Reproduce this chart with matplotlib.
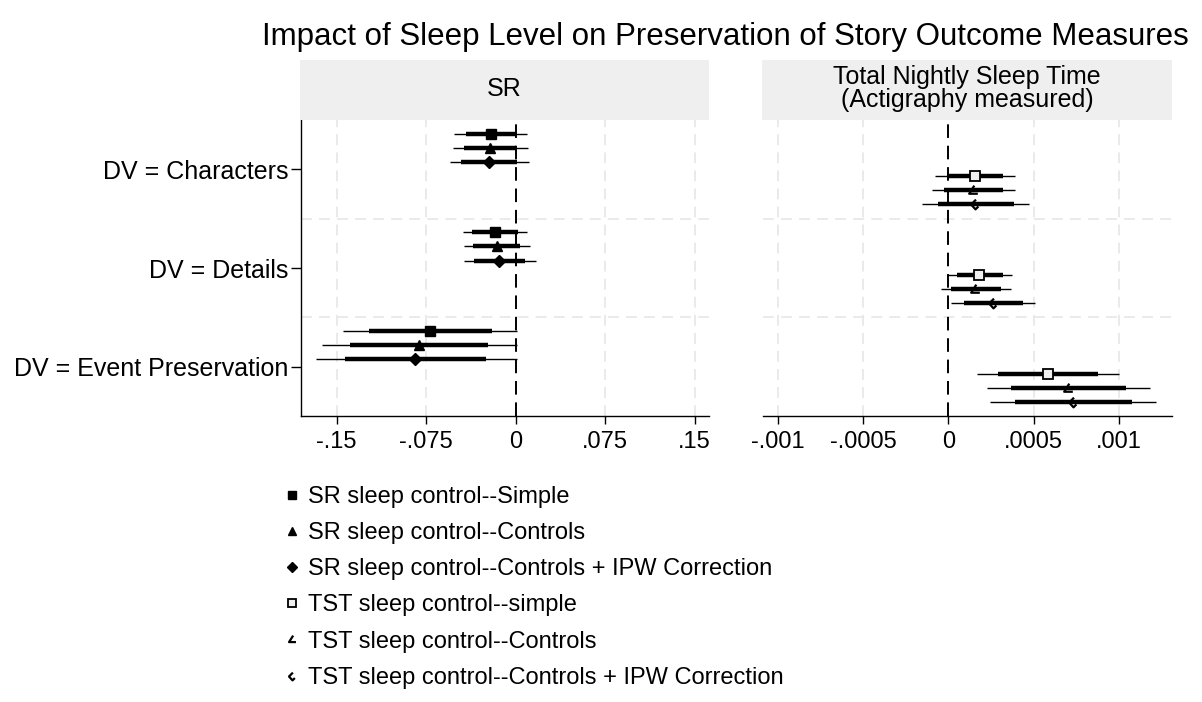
import matplotlib
matplotlib.use("Agg")
import matplotlib.pyplot as plt
from matplotlib.path import Path
from matplotlib.patches import Rectangle
from matplotlib.lines import Line2D
import numpy as np

plt.rcParams['font.family'] = ['Liberation Sans', 'DejaVu Sans']

# ---------------- data ----------------
categories = ["DV = Characters", "DV = Details", "DV = Event Preservation"]
panel_titles = ["SR", "Total Nightly Sleep Time\n(Actigraphy measured)"]
legend_labels = ["SR sleep control--Simple", "SR sleep control--Controls",
                 "SR sleep control--Controls + IPW Correction",
                 "TST sleep control--simple", "TST sleep control--Controls",
                 "TST sleep control--Controls + IPW Correction"]

# SR panel
sr_simple_coef = [-0.0209, -0.0173, -0.0718]
sr_simple_lo95 = [-0.0515, -0.0444, -0.1445]
sr_simple_hi95 = [0.0092, 0.0095, 0.0008]
sr_simple_lo90 = [-0.0419, -0.0364, -0.1229]
sr_simple_hi90 = [0.0001, 0.0018, -0.0201]

sr_controls_coef = [-0.0215, -0.0159, -0.0813]
sr_controls_lo95 = [-0.0525, -0.0436, -0.1623]
sr_controls_hi95 = [0.0100, 0.0120, 0.0008]
sr_controls_lo90 = [-0.0433, -0.0358, -0.1386]
sr_controls_hi90 = [0.0003, 0.0040, -0.0232]

sr_ipw_coef = [-0.0224, -0.0137, -0.0841]
sr_ipw_lo95 = [-0.0553, -0.0436, -0.1676]
sr_ipw_hi95 = [0.0111, 0.0170, 0.0008]
sr_ipw_lo90 = [-0.0456, -0.0347, -0.1430]
sr_ipw_hi90 = [0.0008, 0.0078, -0.0246]

# TST panel
tst_simple_coef = [0.000157, 0.000182, 0.000582]
tst_simple_lo95 = [-0.000078, -0.000010, 0.000170]
tst_simple_hi95 = [0.000391, 0.000373, 0.000999]
tst_simple_lo90 = [-0.000008, 0.000049, 0.000293]
tst_simple_hi90 = [0.000322, 0.000319, 0.000879]

tst_controls_coef = [0.000143, 0.000157, 0.000700]
tst_controls_lo95 = [-0.000094, -0.000041, 0.000225]
tst_controls_hi95 = [0.000393, 0.000366, 0.001180]
tst_controls_lo90 = [-0.000025, 0.000018, 0.000368]
tst_controls_hi90 = [0.000319, 0.000307, 0.001040]

tst_ipw_coef = [0.000158, 0.000264, 0.000729]
tst_ipw_lo95 = [-0.000156, 0.000018, 0.000244]
tst_ipw_hi95 = [0.000475, 0.000510, 0.001220]
tst_ipw_lo90 = [-0.000062, 0.000092, 0.000391]
tst_ipw_hi90 = [0.000385, 0.000436, 0.001075]

sr_ticks = [-0.15, -0.075, 0, 0.075, 0.15]
sr_ticklabels = ["-.15", "-.075", "0", ".075", ".15"]
tst_ticks = [-0.001, -0.0005, 0, 0.0005, 0.001]
tst_ticklabels = ["-.001", "-.0005", "0", ".0005", ".001"]

# ---------------- markers ----------------
M, L = Path.MOVETO, Path.LINETO
tri_open = Path([(0.15, 0.9), (-0.8, -0.6), (0.8, -0.6)], [M, L, L])
dia_open = Path([(0.1, 1.0), (-0.9, 0.0), (0.0, -1.0), (0.6, -0.4)], [M, L, L, L])

sr_series = [
    (sr_simple_coef, sr_simple_lo95, sr_simple_hi95, sr_simple_lo90, sr_simple_hi90,
     dict(marker='s', ms=7, mfc='black', mec='black'), -0.36),
    (sr_controls_coef, sr_controls_lo95, sr_controls_hi95, sr_controls_lo90, sr_controls_hi90,
     dict(marker='^', ms=7.5, mfc='black', mec='black'), -0.22),
    (sr_ipw_coef, sr_ipw_lo95, sr_ipw_hi95, sr_ipw_lo90, sr_ipw_hi90,
     dict(marker='D', ms=6.5, mfc='black', mec='black'), -0.075),
]
tst_series = [
    (tst_simple_coef, tst_simple_lo95, tst_simple_hi95, tst_simple_lo90, tst_simple_hi90,
     dict(marker='s', ms=6.5, mfc='#f0f0f0', mec='black', mew=1.3), 0.07),
    (tst_controls_coef, tst_controls_lo95, tst_controls_hi95, tst_controls_lo90, tst_controls_hi90,
     dict(marker=tri_open, ms=7, mfc='none', mec='black', mew=1.6), 0.213),
    (tst_ipw_coef, tst_ipw_lo95, tst_ipw_hi95, tst_ipw_lo90, tst_ipw_hi90,
     dict(marker=dia_open, ms=7, mfc='none', mec='black', mew=1.6), 0.356),
]

W, H = 1202, 702
fig = plt.figure(figsize=(W / 100, H / 100), dpi=100)

def fx(px):
    return px / W

def fy(py):
    return 1 - py / H

ax1 = fig.add_axes([fx(301), fy(416), fx(709) - fx(301), fy(120) - fy(416)])
ax2 = fig.add_axes([fx(763), fy(416), fx(1172) - fx(763), fy(120) - fy(416)])

ypos = np.arange(1, len(categories) + 1)
grid_c = '#e8e8e8'

def draw_panel(ax, series, ticks, ticklabels, xlim):
    ax.set_xlim(*xlim)
    ax.set_ylim(3.5, 0.5)
    for t in ticks:
        if t != 0:
            ax.axvline(t, color=grid_c, lw=1.3, ls=(0, (6, 4)), zorder=0)
    for yg in [1.5, 2.5]:
        ax.axhline(yg, color=grid_c, lw=1.3, ls=(0, (6, 4)), zorder=0)
    ax.axvline(0, color='black', lw=1.4, ls=(0, (7, 4)), zorder=1)
    handles = []
    for coef, lo95, hi95, lo90, hi90, mk, off in series:
        y = ypos + off
        ax.hlines(y, lo95, hi95, color='black', lw=1.0, zorder=2)
        ax.hlines(y, lo90, hi90, color='black', lw=3.2, zorder=3)
        h, = ax.plot(coef, y, ls='none', zorder=4, **mk)
        handles.append(h)
    ax.set_xticks(ticks)
    ax.set_xticklabels(ticklabels)
    ax.tick_params(axis='x', labelsize=17, length=6, width=1, pad=5)
    for s in ['top', 'right']:
        ax.spines[s].set_visible(False)
    ax.spines['bottom'].set_linewidth(1.0)
    return handles

h1 = draw_panel(ax1, sr_series, sr_ticks, sr_ticklabels, (-0.1799, 0.162))
h2 = draw_panel(ax2, tst_series, tst_ticks, tst_ticklabels, (-0.001086, 0.001311))

ax1.set_yticks(ypos)
ax1.set_yticklabels(categories)
ax1.tick_params(axis='y', labelsize=18, length=7, width=1, pad=2)
ax1.spines['left'].set_linewidth(1.0)
ax2.spines['left'].set_visible(False)
ax2.set_yticks([])

# panel headers
for (x0, x1), title in zip([(300, 709), (762, 1172)], panel_titles):
    fig.patches.append(Rectangle((fx(x0), fy(119.5)), fx(x1) - fx(x0), fy(60) - fy(119.5),
                                 transform=fig.transFigure, facecolor='#efefef',
                                 edgecolor='none', zorder=0))
    fig.text(fx((x0 + x1) / 2), fy(88.5), title, ha='center', va='center',
             fontsize=18, linespacing=0.92)

fig.text(fx(725), fy(37), "Impact of Sleep Level on Preservation of Story Outcome Measures",
         ha='center', va='center', fontsize=22.5)

# legend
leg_handles = []
for h in h1 + h2:
    leg_handles.append(Line2D([], [], ls='none', marker=h.get_marker(),
                              ms=h.get_markersize() * 0.8, mfc=h.get_markerfacecolor(),
                              mec=h.get_markeredgecolor(), mew=h.get_markeredgewidth()))
fig.legend(leg_handles, legend_labels, loc='upper left',
           bbox_to_anchor=(fx(280), fy(486)), frameon=False, fontsize=17,
           handlelength=1.0, handletextpad=0.2, labelspacing=0.6, borderpad=0,
           borderaxespad=0)

fig.savefig("out.png", dpi=100, facecolor='white')
